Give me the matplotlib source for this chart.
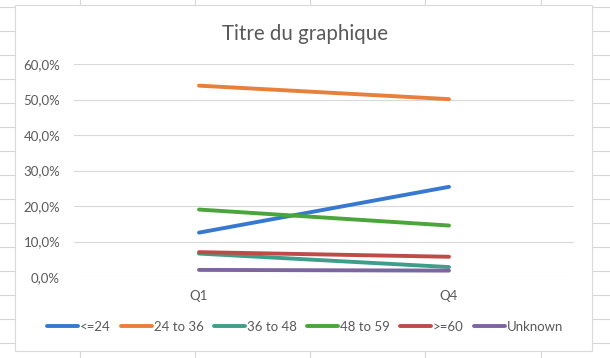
import matplotlib
matplotlib.use("Agg")
import matplotlib.pyplot as plt
from matplotlib.patches import Rectangle
from matplotlib.lines import Line2D
from matplotlib.ticker import FuncFormatter

# données
quarters = ["Q1", "Q4"]
series = ["<=24", "24 to 36", "36 to 48", "48 to 59", ">=60", "Unknown"]
values = {
    "<=24": [12.5, 25.4],
    "24 to 36": [53.9, 50.1],
    "36 to 48": [6.6, 2.8],
    "48 to 59": [19.0, 14.5],
    ">=60": [7.0, 5.7],
    "Unknown": [2.0, 1.8],
}
colors = ["#3779D0", "#E8803A", "#3E9E8A", "#4AA53B", "#BE4B48", "#7D65A0"]

plt.rcParams['font.family'] = ['Lato', 'DejaVu Sans']
W, H = 610, 358
fig = plt.figure(figsize=(W / 100, H / 100), dpi=100)

# grille du tableur en fond
cell = "#D6D6D6"
for x in [80, 195, 310, 425, 541]:
    fig.add_artist(Line2D([x / W, x / W], [0, 1], color=cell, lw=0.8, zorder=-3))
for y in range(7, H, 24):
    fig.add_artist(Line2D([0, 1], [1 - y / H, 1 - y / H], color=cell, lw=0.8, zorder=-3))

# cadre du graphique
fig.add_artist(Rectangle((15 / W, 1 - 351 / H), (592 - 15) / W, (351 - 5) / H,
                         facecolor="white", edgecolor="#D9D9D9", lw=0.8, zorder=-2))

ax = fig.add_axes([74 / W, 1 - 277 / H, 500 / W, 213 / H])
ax.set_facecolor("none")
x = range(len(quarters))
for name, c in zip(series, colors):
    ax.plot(x, values[name], color=c, lw=2.8, label=name, solid_capstyle="round")

ax.set_xlim(-0.5, 1.5)
ax.set_ylim(0, 60)
ax.set_yticks(range(0, 61, 10))
ax.yaxis.set_major_formatter(FuncFormatter(lambda v, p: f"{v:.1f}%".replace(".", ",")))
ax.set_xticks(list(x))
ax.set_xticklabels(quarters)
ax.grid(axis="y", color="#D9D9D9", lw=0.8)
ax.set_axisbelow(True)
for s in ax.spines.values():
    s.set_visible(False)
ax.tick_params(length=0, colors="#595959", labelsize=9.5)
ax.tick_params(axis="y", pad=10)
ax.tick_params(axis="x", pad=9)

fig.text(0.5, 1 - 34 / H, "Titre du graphique", ha="center", va="center",
         fontsize=14.8, color="#595959")

fig.legend(loc="center", bbox_to_anchor=(0.5, 1 - 327 / H), ncol=6, frameon=False,
           fontsize=9.5, labelcolor="#595959", handlelength=2.4, handletextpad=0.12,
           columnspacing=0.75)

fig.savefig("out.png", dpi=100)
